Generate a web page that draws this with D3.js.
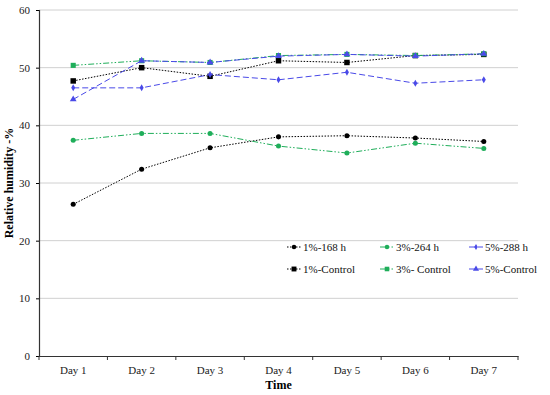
<!DOCTYPE html>
<html><head><meta charset="utf-8">
<script src="https://cdn.jsdelivr.net/npm/d3@7"></script>
<style>body{margin:0;background:#fff}svg{display:block}</style>
</head><body>
<svg id="c" width="550" height="395"></svg>
<script>
const days = ["Day 1","Day 2","Day 3","Day 4","Day 5","Day 6","Day 7"];
const yTicks = [0,10,20,30,40,50,60];
const s1_168 = [26.3,32.4,36.1,38.0,38.2,37.8,37.2];
const s3_264 = [37.4,38.6,38.6,36.4,35.2,36.9,36.0];
const s5_288 = [46.5,46.5,48.8,47.9,49.2,47.3,47.9];
const s1_ctrl = [47.7,50.0,48.5,51.2,50.9,52.1,52.3];
const s3_ctrl = [50.4,51.2,50.9,52.1,52.3,52.1,52.4];
const s5_ctrl = [44.5,51.2,50.9,52.0,52.3,52.0,52.4];
const seriesNames = ["1%-168 h","3%-264 h","5%-288 h","1%-Control","3%- Control","5%-Control"];

const black="#000", green="#1fae5a", blue="#4a4ae8";
const series = [
  {name:seriesNames[0], v:s1_168, color:black, dash:"1.5,1.5", sym:d3.symbolCircle, size:20},
  {name:seriesNames[1], v:s3_264, color:green, dash:"6,2,1.5,2,1.5,2", sym:d3.symbolCircle, size:20},
  {name:seriesNames[2], v:s5_288, color:blue, dash:"6,3", sym:d3.symbolDiamond, size:14},
  {name:seriesNames[3], v:s1_ctrl, color:black, dash:"1.5,1.5", sym:d3.symbolSquare, size:30},
  {name:seriesNames[4], v:s3_ctrl, color:green, dash:"6,2,1.5,2,1.5,2", sym:d3.symbolSquare, size:26},
  {name:seriesNames[5], v:s5_ctrl, color:blue, dash:"6,3", sym:d3.symbolTriangle, size:20},
];

const svg = d3.select("#c");
const L=39, R=518, T=10, B=356;
const x = d3.scaleBand().domain(days).range([L,R]);
const y = d3.scaleLinear().domain([0,60]).range([B,T]);
const font = "'Liberation Serif', serif";

// grid
svg.append("g").selectAll("line").data(yTicks.filter(d=>d>0)).join("line")
  .attr("x1",L).attr("x2",R).attr("y1",d=>y(d)).attr("y2",d=>y(d))
  .attr("stroke","#d0d0d0").attr("stroke-width",1);

// y axis
const ya = svg.append("g").attr("transform",`translate(${L},0)`)
  .call(d3.axisLeft(y).tickValues(yTicks).tickSize(3).tickPadding(6));
ya.select(".domain").attr("stroke","#333").attr("stroke-width",1.2);
ya.selectAll("text").attr("font-family",font).attr("font-size",11).attr("fill","#222");

// x axis
const xa = svg.append("g").attr("transform",`translate(0,${B})`)
  .call(d3.axisBottom(x).tickSize(0).tickPadding(10));
xa.select(".domain").attr("stroke","#333").attr("stroke-width",1.2);
xa.selectAll("text").attr("font-family",font).attr("font-size",11).attr("fill","#222");
const bounds = days.map((d,i)=>x(d)).concat([x(days[days.length-1])+x.bandwidth()]);
xa.selectAll(".bt").data(bounds).join("line").attr("class","bt")
  .attr("x1",d=>d).attr("x2",d=>d).attr("y1",0).attr("y2",4).attr("stroke","#333");

svg.append("text").attr("x",(L+R)/2).attr("y",389).attr("text-anchor","middle")
  .attr("font-family",font).attr("font-size",12).attr("font-weight","bold").text("Time");
svg.append("text").attr("transform",`translate(13,${(T+B)/2}) rotate(-90)`).attr("text-anchor","middle")
  .attr("font-family",font).attr("font-size",12).attr("font-weight","bold").text("Relative humidity -%");

const cx = d=>x(d)+x.bandwidth()/2;
const line = d3.line().x((d,i)=>cx(days[i])).y(d=>y(d));
// draw order: put 168h series later
const order=[3,4,5,0,1,2];
order.forEach(k=>{
  const s=series[k];
  const g=svg.append("g");
  g.append("path").attr("d",line(s.v)).attr("fill","none").attr("stroke",s.color)
    .attr("stroke-width",1).attr("stroke-dasharray",s.dash);
  g.selectAll("path.m").data(s.v).join("path").attr("class","m")
    .attr("transform",(d,i)=>`translate(${cx(days[i])},${y(d)})`)
    .attr("d",d3.symbol(s.sym,s.size)).attr("fill",s.color);
});

// legend
const colX=[287,380,469], rowY=[247,269];
series.forEach((s,i)=>{
  const lx=colX[i%3], ly=rowY[Math.floor(i/3)];
  const g=svg.append("g").attr("transform",`translate(${lx},${ly})`);
  g.append("line").attr("x1",0).attr("x2",14).attr("y1",0).attr("y2",0)
    .attr("stroke",s.color).attr("stroke-width",1).attr("stroke-dasharray",s.dash);
  g.append("path").attr("transform","translate(7,0)").attr("d",d3.symbol(s.sym,s.size*0.8)).attr("fill",s.color);
  g.append("text").attr("x",16).attr("y",4).attr("font-family",font).attr("font-size",11)
    .attr("fill","#111").text(s.name);
});
</script>
</body></html>
